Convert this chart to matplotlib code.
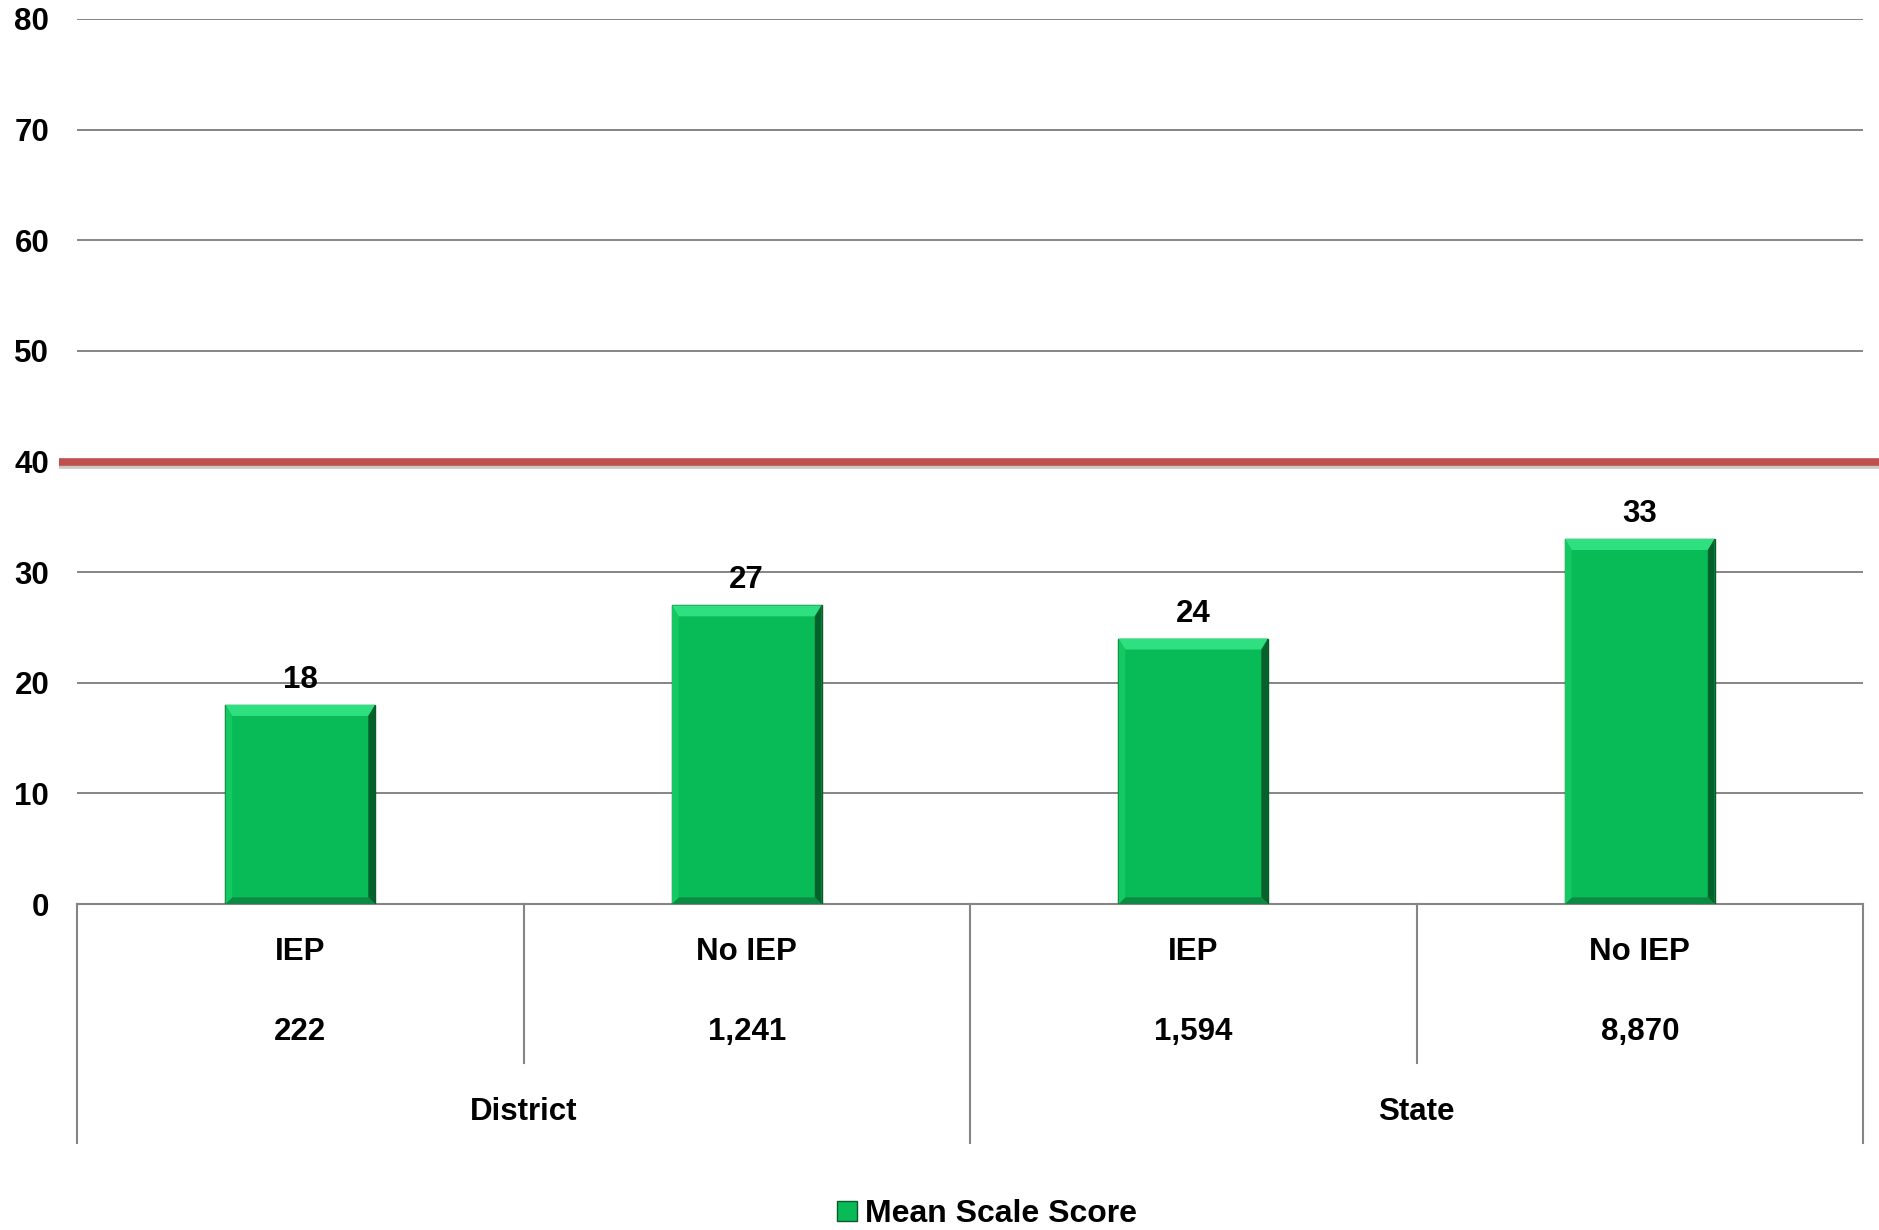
import matplotlib
matplotlib.use("Agg")
import matplotlib.pyplot as plt
from matplotlib.patches import Polygon, Patch
import matplotlib.patheffects as pe

plt.rcParams['font.family'] = ['Liberation Sans', 'DejaVu Sans']
plt.rcParams['font.weight'] = 'bold'

groups = ["District", "State"]
categories = ["IEP", "No IEP", "IEP", "No IEP"]
counts = ["222", "1,241", "1,594", "8,870"]
values = [18, 27, 24, 33]
target = 40
yticks = [0, 10, 20, 30, 40, 50, 60, 70, 80]
series_name = "Mean Scale Score"

FS = 22.5
bar_color = "#09BB56"
fig = plt.figure(figsize=(18.79, 12.30), dpi=100)
ax = fig.add_axes([77/1879, 1-904/1230, (1863-77)/1879, (904-19)/1230])

x = list(range(len(values)))
bars = ax.bar(x, values, width=0.335, color=bar_color, edgecolor="#0a5a2c", linewidth=1.0, zorder=3)

# bevel effect derived from each bar's geometry
for b in bars:
    x0 = b.get_x(); w = b.get_width(); h = b.get_height()
    bx = w * 0.045; by = 1.0
    top = Polygon([(x0, h), (x0 + w, h), (x0 + w - bx, h - by), (x0 + bx, h - by)],
                  closed=True, facecolor="#2ee07f", edgecolor="none", zorder=4)
    right = Polygon([(x0 + w, h), (x0 + w, 0), (x0 + w - bx, by * 0.6), (x0 + w - bx, h - by)],
                    closed=True, facecolor="#05612c", edgecolor="none", zorder=4)
    bottom = Polygon([(x0, 0), (x0 + w, 0), (x0 + w - bx, by * 0.6), (x0 + bx, by * 0.6)],
                     closed=True, facecolor="#0a8a42", edgecolor="none", zorder=4)
    left = Polygon([(x0, h), (x0, 0), (x0 + bx, by * 0.6), (x0 + bx, h - by)],
                   closed=True, facecolor="#14c862", edgecolor="none", zorder=4)
    for p in (top, right, bottom, left):
        ax.add_patch(p)
    ax.annotate(f"{int(h)}", (b.get_x() + w / 2, h), xytext=(0, 18), textcoords="offset points",
                ha="center", va="center", fontsize=FS, fontweight="bold", zorder=6)

ax.set_xlim(-0.5, len(values) - 0.5)
ax.set_ylim(0, 80)
ax.set_yticks(yticks)
ax.set_yticklabels([str(t) for t in yticks], fontsize=FS, fontweight="bold")
ax.tick_params(axis="y", length=0, pad=20)
ax.set_xticks([])
ax.yaxis.grid(True, color="#858585", linewidth=1.4, zorder=0)
ax.set_axisbelow(True)
for s in ["left", "right", "top"]:
    ax.spines[s].set_visible(False)
ax.spines["bottom"].set_color("#858585")
ax.spines["bottom"].set_linewidth(1.5)

# target line
ax.plot([-0.54, len(values) - 0.46], [target, target], color="#C0504D", linewidth=5.5, clip_on=False, zorder=5,
        solid_capstyle="butt",
        path_effects=[pe.SimpleLineShadow(offset=(0, -2.5), shadow_color="#888888", alpha=0.45), pe.Normal()])

# category table below axis
sep_col = "#858585"
for i in range(len(values) + 1):
    xs = i - 0.5
    outer = (i % 2 == 0)
    ybot = -21.6 if outer else -14.4
    ax.plot([xs, xs], [0, ybot], color=sep_col, linewidth=1.5, clip_on=False)
for i, (c, n) in enumerate(zip(categories, counts)):
    ax.text(i, -4.3, c, ha="center", va="center", fontsize=FS, fontweight="bold")
    ax.text(i, -11.6, n, ha="center", va="center", fontsize=FS, fontweight="bold")
for g, gname in enumerate(groups):
    ax.text(2 * g + 0.5, -18.8, gname, ha="center", va="center", fontsize=FS, fontweight="bold")

handle = Patch(facecolor=bar_color, edgecolor="#0a5a2c")
fig.legend([handle], [series_name], loc="center", bbox_to_anchor=(987/1879, 1-1214/1230),
           frameon=False, handlelength=0.6, handleheight=0.6, handletextpad=0.25,
           prop={"weight": "bold", "size": 23})

fig.savefig("out.png", dpi=100)
